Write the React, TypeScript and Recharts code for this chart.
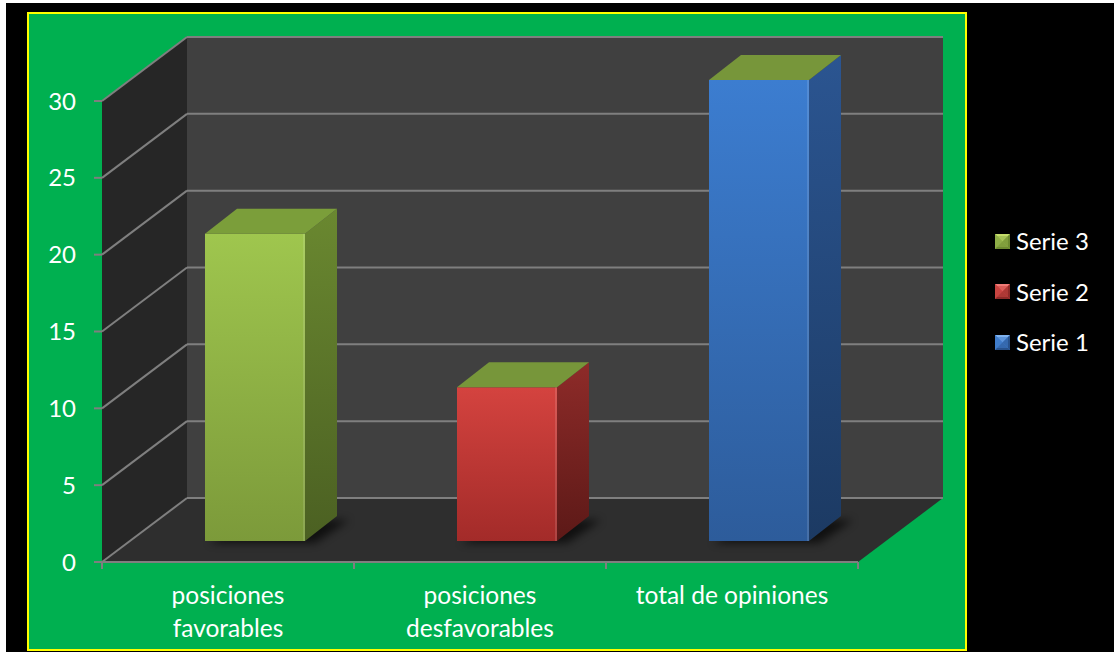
import React from 'react';
import { BarChart, Bar, XAxis, YAxis, CartesianGrid, Legend } from 'recharts';

// ---- data ----
const categories = ['posiciones favorables', 'posiciones desfavorables', 'total de opiniones'];
const categoryLines = [['posiciones', 'favorables'], ['posiciones', 'desfavorables'], ['total de opiniones']];
const values = [20, 10, 30];
const seriesOfCategory = ['Serie 3', 'Serie 2', 'Serie 1'];
const legendOrder = ['Serie 3', 'Serie 2', 'Serie 1'];
const yTicks = [0, 5, 10, 15, 20, 25, 30];

const data = categories.map((c, i) => ({ category: c, value: values[i], series: seriesOfCategory[i] }));

// ---- styles ----
const FONT = "Lato, 'Open Sans', sans-serif";
const WALL_DX = 85;
const WALL_DY = -64;
const BAR_SX = 27;
const BAR_SY = -21;
const BAR_DX = 32;
const BAR_DY = -25;
const GRID = '#7f7f7f';

const PALETTE: Record<string, any> = {
  'Serie 3': { ft: '#9fc64e', fb: '#7c9a3a', st: '#6a8830', sb: '#4b6022', top: '#7b9e3a', m1: '#c4dc6a', m2: '#8fae47', m3: '#6d8a30' },
  'Serie 2': { ft: '#d4433f', fb: '#a32b29', st: '#8e2b29', sb: '#5c1917', top: '#77963a', m1: '#f07a76', m2: '#c84440', m3: '#8e2a28' },
  'Serie 1': { ft: '#3c7dd0', fb: '#2d5c9b', st: '#2b5591', sb: '#1c3a63', top: '#77963a', m1: '#7fb2ef', m2: '#3f7ccb', m3: '#28528c' },
};

const renderGridLine = (p: any) => {
  const { x1, y1, x2, index } = p;
  const hp: number[] = p.horizontalPoints || [];
  const left = typeof p.x === 'number' ? p.x : x1;
  const w = typeof p.width === 'number' ? p.width : x2 - x1;
  const top = hp.length ? Math.min(...hp) : p.y;
  const bottom = hp.length ? Math.max(...hp) : p.y + p.height;
  const bx = x1 + WALL_DX;
  const by = y1 + WALL_DY;
  return (
    <g key={`gl-${index}`}>
      {index === 0 && (
        <g>
          <polygon
            points={`${left},${top} ${left + WALL_DX},${top + WALL_DY} ${left + WALL_DX},${bottom + WALL_DY} ${left},${bottom}`}
            fill="#262626"
          />
          <rect x={left + WALL_DX} y={top + WALL_DY} width={w} height={bottom - top} fill="#404040" />
          <polygon
            points={`${left},${bottom} ${left + WALL_DX},${bottom + WALL_DY} ${left + w + WALL_DX},${bottom + WALL_DY} ${left + w},${bottom}`}
            fill="#2e2e2e"
          />
        </g>
      )}
      <line x1={x1} y1={y1} x2={bx} y2={by} stroke={GRID} strokeWidth={2} />
      <line x1={bx} y1={by} x2={x2 + WALL_DX} y2={by} stroke={GRID} strokeWidth={2} />
    </g>
  );
};

const Bar3D = (p: any) => {
  const { x, y, width: w, height: h, index } = p;
  const pal = PALETTE[seriesOfCategory[index]];
  const fx = x + BAR_SX;
  const fy = y + BAR_SY;
  const id = `bar3d-${index}`;
  const by = fy + h;
  return (
    <g>
      <defs>
        <linearGradient id={`${id}-f`} x1="0" y1="0" x2="0" y2="1">
          <stop offset="0%" stopColor={pal.ft} />
          <stop offset="100%" stopColor={pal.fb} />
        </linearGradient>
        <linearGradient id={`${id}-s`} x1="0" y1="0" x2="0" y2="1">
          <stop offset="0%" stopColor={pal.st} />
          <stop offset="100%" stopColor={pal.sb} />
        </linearGradient>
        <filter id={`${id}-blur`} x="-50%" y="-50%" width="200%" height="200%">
          <feGaussianBlur stdDeviation="4" />
        </filter>
      </defs>
      <polygon
        points={`${fx + 4},${by + 2} ${fx + w + 10},${by + 2} ${fx + w + BAR_DX + 12},${by + BAR_DY + 4} ${fx + BAR_DX + 10},${by + BAR_DY + 4}`}
        fill="#000"
        opacity={0.65}
        filter={`url(#${id}-blur)`}
      />
      <rect x={fx} y={fy} width={w} height={h} fill={`url(#${id}-f)`} />
      <polygon
        points={`${fx + w},${fy} ${fx + w + BAR_DX},${fy + BAR_DY} ${fx + w + BAR_DX},${by + BAR_DY} ${fx + w},${by}`}
        fill={`url(#${id}-s)`}
      />
      <polygon
        points={`${fx},${fy} ${fx + BAR_DX},${fy + BAR_DY} ${fx + w + BAR_DX},${fy + BAR_DY} ${fx + w},${fy}`}
        fill={pal.top}
      />
      <line x1={fx + w - 1} y1={fy} x2={fx + w - 1} y2={by} stroke="#ffffff" strokeOpacity={0.12} strokeWidth={2} />
    </g>
  );
};

const XTick = (p: any) => {
  const { x, y, index, visibleTicksCount } = p;
  const count = visibleTicksCount || categories.length;
  const band = typeof p.width === 'number' ? p.width / count : 252;
  const lines = categoryLines[index] || [String(p.payload?.value ?? '')];
  return (
    <g>
      <line x1={x - band / 2} y1={y} x2={x - band / 2} y2={y + 7} stroke={GRID} strokeWidth={2} />
      {index === count - 1 && (
        <line x1={x + band / 2} y1={y} x2={x + band / 2} y2={y + 7} stroke={GRID} strokeWidth={2} />
      )}
      {lines.map((t, i) => (
        <text key={i} x={x} y={y + 42 + i * 33} textAnchor="middle" fill="#ffffff" fontSize={24.5} fontFamily={FONT}>
          {t}
        </text>
      ))}
    </g>
  );
};

const Marker = ({ s }: { s: string }) => {
  const pal = PALETTE[s];
  return (
    <svg width={15} height={15} style={{ display: 'block' }}>
      <rect x={0} y={0} width={15} height={15} fill={pal.m2} />
      <polygon points="0,0 15,0 7.5,7.5" fill={pal.m1} />
      <polygon points="0,0 7.5,7.5 0,15" fill={pal.m2} />
      <polygon points="15,0 7.5,7.5 15,15" fill={pal.m3} />
      <polygon points="0,15 7.5,7.5 15,15" fill={pal.m3} />
      <rect x={2} y={2} width={11} height={11} fill={pal.m2} opacity={0.55} />
    </svg>
  );
};

const LegendContent = () => (
  <div style={{ fontFamily: FONT, color: '#ffffff', fontSize: 24 }}>
    {legendOrder.map((s) => (
      <div key={s} style={{ display: 'flex', alignItems: 'center', height: 50.5 }}>
        <Marker s={s} />
        <span style={{ marginLeft: 6, lineHeight: '24px' }}>{s}</span>
      </div>
    ))}
  </div>
);

export default function App() {
  return (
    <div style={{ position: 'absolute', left: 0, top: 0, width: 1114, height: 652, background: '#ffffff', overflow: 'hidden' }}>
      <div style={{ position: 'absolute', left: 6, top: 3, width: 1108, height: 649, background: '#000000' }} />
      <div
        style={{
          position: 'absolute',
          left: 27,
          top: 12,
          width: 940,
          height: 639,
          background: '#00b050',
          border: '2px solid #ffff00',
          boxSizing: 'border-box',
        }}
      />
      <div style={{ position: 'absolute', left: 0, top: 0 }}>
        <BarChart
          width={1114}
          height={652}
          data={data}
          margin={{ top: 101, right: 256, bottom: 60, left: 42 }}
          barSize={100}
        >
          <CartesianGrid vertical={false} horizontal={renderGridLine} syncWithTicks fill="none" stroke="none" />
          <XAxis
            dataKey="category"
            height={30}
            axisLine={{ stroke: GRID, strokeWidth: 2 }}
            tickLine={false}
            tickSize={0}
            tickMargin={0}
            tick={<XTick />}
            interval={0}
          />
          <YAxis
            width={60}
            type="number"
            domain={[0, 30]}
            ticks={yTicks}
            axisLine={false}
            tickLine={{ stroke: GRID, strokeWidth: 2 }}
            tickSize={8}
            tickMargin={18}
            tick={{ fill: '#ffffff', fontSize: 24, fontFamily: FONT }}
          />
          <Bar dataKey="value" shape={<Bar3D />} isAnimationActive={false} />
          <Legend
            layout="vertical"
            align="center"
            verticalAlign="middle"
            wrapperStyle={{ left: 995, top: 216, width: 115 }}
            content={<LegendContent />}
          />
        </BarChart>
      </div>
    </div>
  );
}
